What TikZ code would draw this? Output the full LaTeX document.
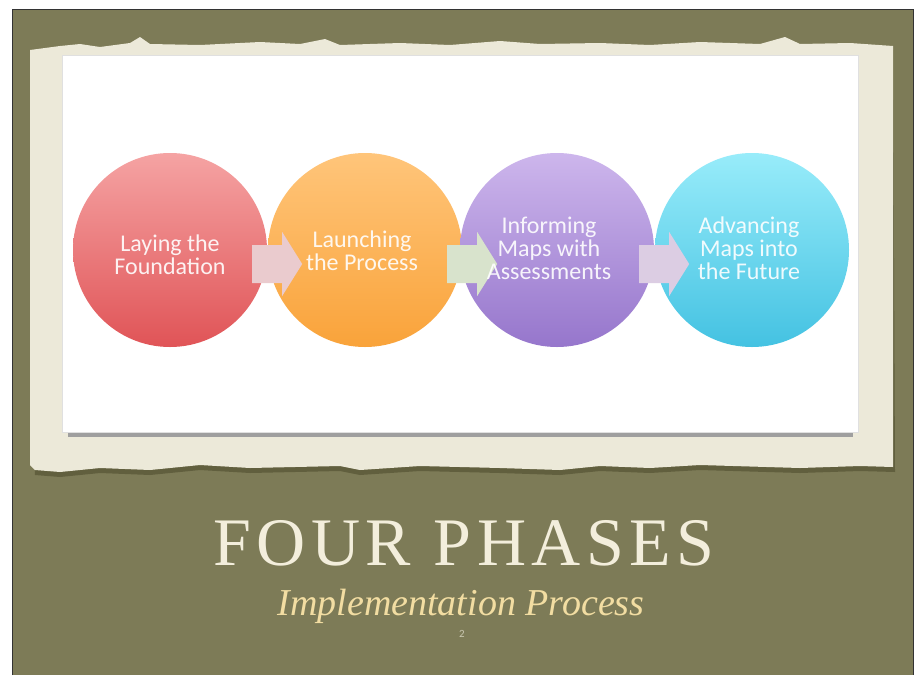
\documentclass[tikz,border=0pt]{standalone}
\usepackage{fontspec}
\newfontfamily\circfont{Carlito}
\newfontfamily\titleserif{Liberation Serif}
\usetikzlibrary{calc}
\definecolor{olivebg}{HTML}{7D7B57}
\definecolor{olivedark}{HTML}{5A5838}
\definecolor{paper}{HTML}{ECE9D9}
\definecolor{titlecream}{HTML}{F3EEDC}
\definecolor{subyellow}{HTML}{F2DDA2}
\definecolor{numgray}{HTML}{C9C7B0}
\definecolor{redtop}{HTML}{F5A3A3}
\definecolor{redbot}{HTML}{E05457}
\definecolor{orgtop}{HTML}{FFC57A}
\definecolor{orgbot}{HTML}{F9A33A}
\definecolor{purtop}{HTML}{CDB6EC}
\definecolor{purbot}{HTML}{9676CC}
\definecolor{cyatop}{HTML}{98ECFA}
\definecolor{cyabot}{HTML}{44C2E2}
\definecolor{arrpink}{HTML}{EACBCE}
\definecolor{arrgreen}{HTML}{D8E3CC}
\definecolor{arrlav}{HTML}{DCCDE3}
\tikzset{
  phase/.style={circle, minimum size=194pt, inner sep=0pt},
  phasetext/.style={text=white, text opacity=0.9, font=\circfont\fontsize{24}{23}\selectfont, align=center},
  titlestyle/.style={font=\titleserif\fontsize{68}{68}\selectfont\addfontfeature{LetterSpace=8}, inner sep=0pt, anchor=base},
  substyle/.style={font=\titleserif\itshape\fontsize{38}{38}\selectfont, inner sep=0pt, anchor=base}
}
\begin{document}
\begin{tikzpicture}[x=1pt,y=-1pt]
\useasboundingbox (0,0) rectangle (915,675);
\fill[white] (0,0) rectangle (915,675);
\fill[olivebg] (12,9) rectangle (913,675);
\draw[black!80, line width=1pt] (12,675) -- (12,9) -- (913,9) -- (913,675);
% paper shadow
\fill[olivedark, opacity=0.8] (32,52) -- (893,50) -- (895,472) -- (860,471) -- (800,473) -- (700,470) -- (650,473) -- (600,471) -- (560,475) -- (500,473) -- (420,471) -- (360,475) -- (340,471) -- (250,473) -- (200,470) -- (150,475) -- (100,473) -- (60,477) -- (35,475) -- cycle;
% paper
\fill[paper] (30,50) -- (60,46) -- (80,44) -- (100,47) -- (130,43) -- (140,37) -- (150,44) -- (200,45) -- (260,42) -- (300,44) -- (325,39) -- (340,45) -- (400,43) -- (450,45) -- (500,41) -- (540,44) -- (600,43) -- (650,45) -- (700,42) -- (760,44) -- (785,37) -- (800,44) -- (850,43) -- (893,46)
  -- (893,467) -- (860,466) -- (800,468) -- (700,465) -- (650,468) -- (600,466) -- (560,470) -- (500,468) -- (420,466) -- (360,470) -- (340,466) -- (250,468) -- (200,465) -- (150,470) -- (100,468) -- (60,472) -- (35,470) -- (30,465) -- cycle;
% panel
\fill[gray!75] (68,430) rectangle (853,437);
\fill[white] (62,55) rectangle (858,432);
\draw[black!12, line width=0.6pt] (62,55) rectangle (858,432);
% circles
\node[phase, top color=redtop, bottom color=redbot] (c1) at (170,250) {};
\node[phase, top color=orgtop, bottom color=orgbot] (c2) at (365,250) {};
\node[phase, top color=purtop, bottom color=purbot] (c3) at (557,250) {};
\node[phase, top color=cyatop, bottom color=cyabot] (c4) at (752,250) {};
% arrows
\foreach \a/\col in {c1/arrpink, c2/arrgreen, c3/arrlav}{
  \coordinate (m) at ($(\a.east)+(-15,14)$);
  \fill[\col] ($(m)+(0,-19)$) -- ($(m)+(30,-19)$) -- ($(m)+(30,-32)$) -- ($(m)+(50,0)$) -- ($(m)+(30,32)$) -- ($(m)+(30,19)$) -- ($(m)+(0,19)$) -- cycle;
}
% texts
\node[phasetext] at ($(c1)+(0,5)$) {Laying the\\Foundation};
\node[phasetext] at ($(c2)+(-3,1)$) {Launching\\the Process};
\node[phasetext] at ($(c3)+(-8,-2)$) {Informing\\Maps with\\Assessments};
\node[phasetext] at ($(c4)+(-3,-2)$) {Advancing\\Maps into\\the Future};
% titles
\node[titlestyle, text=titlecream] (title) at (464,565) {FOUR PHASES};
\node[substyle, text=subyellow] (sub) at (461,615) {Implementation Process};
\node[text=numgray, font=\circfont\fontsize{11}{11}\selectfont] (num) at (462,634) {2};
\end{tikzpicture}
\end{document}
